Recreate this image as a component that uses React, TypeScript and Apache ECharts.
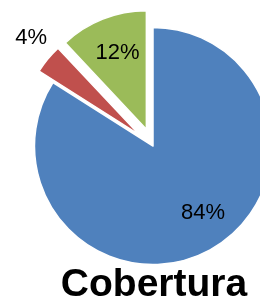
import React, { useEffect, useRef } from "react";
import * as echarts from "echarts";

const categories = ["Sí", "No", "Parcial"];
const values = [84, 4, 12];
const colors = ["#4F81BD", "#C0504D", "#9BBB59"];
const exploded = [false, true, true];
const labelShift = [
  [20, 11],
  [-60, -58],
  [-6, -20],
];
const titleText = "Cobertura";

export default function App() {
  const ref = useRef<HTMLDivElement>(null);
  useEffect(() => {
    document.body.style.margin = "0";
    const chart = echarts.init(ref.current!, undefined, { renderer: "svg" });
    const total = values.reduce((a, b) => a + b, 0);
    chart.setOption({
      animation: false,
      title: {
        text: titleText,
        left: 154,
        top: 263,
        textAlign: "center",
        padding: 0,
        textStyle: {
          fontFamily: "Liberation Sans",
          fontWeight: "bold",
          fontSize: 39,
          lineHeight: 38,
          color: "#000",
        },
      },
      series: [
        {
          type: "pie",
          center: [153, 146],
          radius: 118.5,
          startAngle: 90,
          clockwise: true,
          selectedMode: "multiple",
          selectedOffset: 18,
          silent: true,
          emphasis: { disabled: true },
          itemStyle: { borderColor: "#fff", borderWidth: 1.5 },
          label: {
            show: true,
            position: "inside",
            fontFamily: "Liberation Sans",
            fontSize: 22,
            color: "#000",
            formatter: (p: any) => Math.round((p.value / total) * 100) + "%",
          },
          labelLine: { show: false },
          labelLayout: (p: any) => ({
            dx: labelShift[p.dataIndex][0],
            dy: labelShift[p.dataIndex][1],
          }),
          data: categories.map((c, i) => ({
            name: c,
            value: values[i],
            selected: exploded[i],
            itemStyle: { color: colors[i] },
          })),
        },
      ],
    });
    return () => chart.dispose();
  }, []);
  return (
    <div
      ref={ref}
      style={{ position: "fixed", left: 0, top: 0, width: 260, height: 302 }}
    />
  );
}
